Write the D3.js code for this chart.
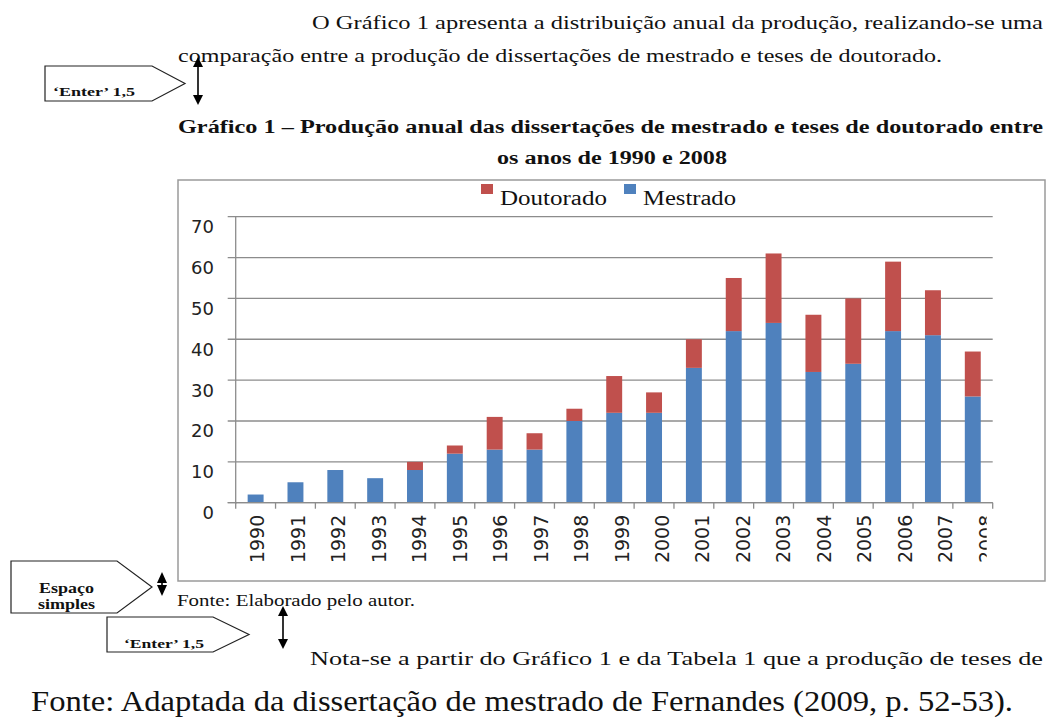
<!DOCTYPE html>
<html>
<head>
<meta charset="utf-8">
<script src="https://cdn.jsdelivr.net/npm/d3@7"></script>
<style>
  html, body { margin: 0; padding: 0; background: #fff; }
  svg { display: block; }
  .serif { font-family: "Liberation Serif", "Times New Roman", serif; fill: #111; }
  .sans { font-family: "DejaVu Sans", Verdana, sans-serif; fill: #222; }
</style>
</head>
<body>
<svg id="chart" width="1048" height="720"></svg>
<script>
// ---- data ----
const years = ["1990","1991","1992","1993","1994","1995","1996","1997","1998","1999",
               "2000","2001","2002","2003","2004","2005","2006","2007","2008"];
const mestrado  = [2, 5, 8, 6, 8, 12, 13, 13, 20, 22, 22, 33, 42, 44, 32, 34, 42, 41, 26];
const doutorado = [0, 0, 0, 0, 2,  2,  8,  4,  3,  9,  5,  7, 13, 17, 14, 16, 17, 11, 11];
const yTicks = [0, 10, 20, 30, 40, 50, 60, 70];
const legendNames = ["Doutorado", "Mestrado"];
const seriesKeys = ["Mestrado", "Doutorado"];

const colors = { "Mestrado": "#4F81BD", "Doutorado": "#C0504D" };

const svg = d3.select("#chart");

// ---- surrounding document text ----
function txt(x, y, s, size, len, opts = {}) {
  const t = svg.append("text")
    .attr("class", "serif")
    .attr("x", x).attr("y", y)
    .attr("font-size", size)
    .attr("font-weight", opts.bold ? "bold" : "normal")
    .text(s);
  if (len) t.attr("textLength", len).attr("lengthAdjust", "spacingAndGlyphs");
  return t;
}

txt(312, 29, "O Gráfico 1 apresenta a distribuição anual da produção, realizando-se uma", 19, 731);
txt(178, 62, "comparação entre a produção de dissertações de mestrado e teses de doutorado.", 19, 764);
txt(178, 133, "Gráfico 1 – Produção anual das dissertações de mestrado e teses de doutorado entre", 18.5, 865, {bold: true});
txt(497, 164, "os anos de 1990 e 2008", 18.5, 230, {bold: true});
txt(177, 606, "Fonte: Elaborado pelo autor.", 17, 238);
txt(310, 665, "Nota-se a partir do Gráfico 1 e da Tabela 1 que a produção de teses de", 19, 733);
txt(31, 711, "Fonte: Adaptada da dissertação de mestrado de Fernandes (2009, p. 52-53).", 29, 982);

// callout boxes
function callout(x0, y0, x1, tipX, y1) {
  const ym = (y0 + y1) / 2;
  svg.append("path")
    .attr("d", `M${x0},${y0}L${x1},${y0}L${tipX},${ym}L${x1},${y1}L${x0},${y1}Z`)
    .attr("fill", "#fff").attr("stroke", "#222").attr("stroke-width", 1.2);
}
function dblArrow(x, ya, yb, head) {
  svg.append("line").attr("x1", x).attr("x2", x).attr("y1", ya + head).attr("y2", yb - head)
    .attr("stroke", "#000").attr("stroke-width", 1.6);
  svg.append("path").attr("d", `M${x},${ya}L${x - 5},${ya + head}L${x + 5},${ya + head}Z`).attr("fill", "#000");
  svg.append("path").attr("d", `M${x},${yb}L${x - 5},${yb - head}L${x + 5},${yb - head}Z`).attr("fill", "#000");
}
callout(45, 66, 152, 185, 101);
txt(53, 96, "‘Enter’ 1,5", 13, 82, {bold: true});
dblArrow(198, 57, 105, 10);

callout(11, 561, 117, 152, 613);
txt(39, 593, "Espaço", 14, 55, {bold: true});
txt(38, 609, "simples", 14, 57, {bold: true});
dblArrow(162, 572, 596, 11);

callout(107, 617, 213, 249, 652);
txt(124, 648, "‘Enter’ 1,5", 13, 80, {bold: true});
dblArrow(283, 606, 649, 10);

// ---- chart frame ----
svg.append("rect").attr("x", 178).attr("y", 180).attr("width", 867).attr("height", 401)
  .attr("fill", "#fff").attr("stroke", "#9a9a9a").attr("stroke-width", 1.5);

// ---- scales ----
const plotL = 235.7, plotR = 992.7;
const x = d3.scaleBand().domain(years).range([plotL, plotR]).paddingInner(0.6).paddingOuter(0.3);
const y = d3.scaleLinear().domain([0, 70]).range([502.7, 216.7]);
// labels in the reference drift slightly right of the bars
const xLab = d3.scalePoint().domain(years)
  .range([x(years[0]) + x.bandwidth() / 2 + 2, x(years[years.length - 1]) + x.bandwidth() / 2 + 13]);

// gridlines + y ticks
svg.append("g").selectAll("line").data(yTicks).join("line")
  .attr("x1", plotL - 8).attr("x2", plotR)
  .attr("y1", d => y(d)).attr("y2", d => y(d))
  .attr("stroke", "#8c8c8c").attr("stroke-width", 1.3);

svg.append("g").selectAll("text").data(yTicks).join("text")
  .attr("class", "sans")
  .attr("x", 214).attr("y", d => y(d) + 10)
  .attr("dy", "0.36em")
  .attr("text-anchor", "end")
  .attr("font-size", 18)
  .text(d => d);

// y axis line
svg.append("line").attr("x1", plotL).attr("x2", plotL).attr("y1", y(70)).attr("y2", y(0) + 1)
  .attr("stroke", "#8c8c8c").attr("stroke-width", 1.3);

// ---- bars ----
const table = years.map((yr, i) => ({ year: yr, Mestrado: mestrado[i], Doutorado: doutorado[i] }));
const stacked = d3.stack().keys(seriesKeys)(table);

svg.append("g").selectAll("g").data(stacked).join("g")
  .attr("fill", d => colors[d.key])
  .selectAll("rect").data(d => d.filter(p => p[1] > p[0])).join("rect")
  .attr("x", d => x(d.data.year))
  .attr("width", x.bandwidth())
  .attr("y", d => y(d[1]))
  .attr("height", d => y(d[0]) - y(d[1]));

// x axis line with category-boundary ticks
svg.append("line").attr("x1", plotL - 8).attr("x2", plotR).attr("y1", y(0)).attr("y2", y(0))
  .attr("stroke", "#8c8c8c").attr("stroke-width", 1.3);
const boundaries = d3.range(years.length + 1).map(i => plotL + i * x.step());
svg.append("g").selectAll("line").data(boundaries).join("line")
  .attr("x1", d => d).attr("x2", d => d)
  .attr("y1", y(0)).attr("y2", y(0) + 6)
  .attr("stroke", "#8c8c8c").attr("stroke-width", 1.3);

// x labels (rotated), clipped at the right like the reference
svg.append("clipPath").attr("id", "xclip").append("rect")
  .attr("x", plotL - 30).attr("y", y(0)).attr("width", plotR - plotL + 24).attr("height", 80);
svg.append("g").attr("clip-path", "url(#xclip)")
  .selectAll("text").data(years).join("text")
  .attr("class", "sans")
  .attr("font-size", 19)
  .attr("text-anchor", "end")
  .attr("transform", d => `translate(${xLab(d)},${y(0) + 12}) rotate(-90)`)
  .attr("dy", "0.36em")
  .text(d => d);

// ---- legend ----
const legX = [481, 624];
const leg = svg.append("g").selectAll("g").data(legendNames).join("g")
  .attr("transform", (d, i) => `translate(${legX[i]},184)`);
leg.append("rect").attr("width", 12).attr("height", 10).attr("fill", d => colors[d]);
leg.append("text").attr("class", "serif")
  .attr("x", 19).attr("y", 21)
  .attr("font-size", 20)
  .attr("textLength", d => d === "Doutorado" ? 107 : 93)
  .attr("lengthAdjust", "spacingAndGlyphs")
  .text(d => d);
</script>
</body>
</html>
